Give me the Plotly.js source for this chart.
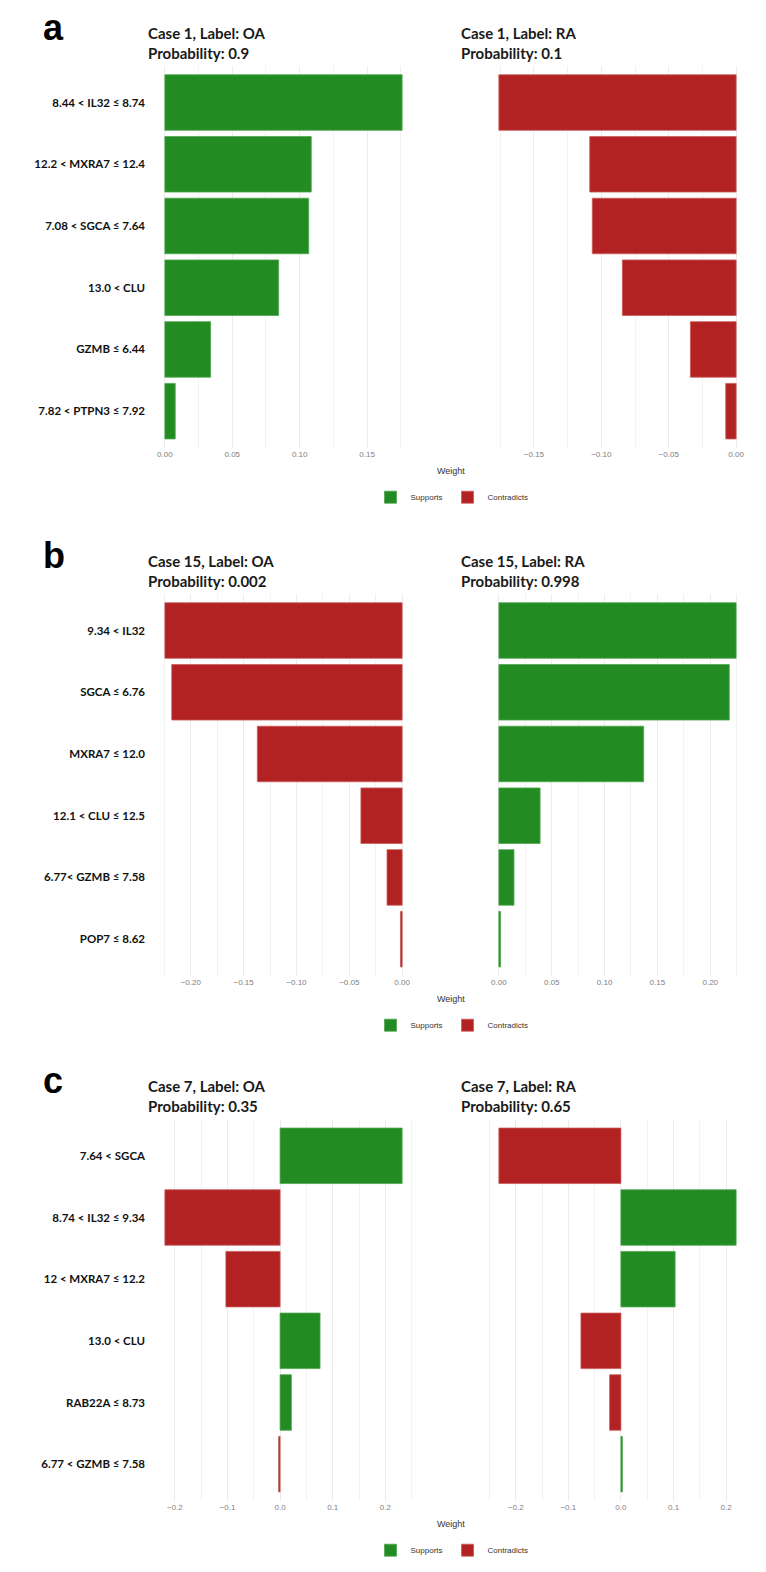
<!DOCTYPE html>
<html><head><meta charset="utf-8">
<script src="https://cdn.plot.ly/plotly-3.0.1.min.js"></script>
<style>html,body{margin:0;padding:0;background:#fff}#chart{width:766px;height:1572px}</style>
</head><body><div id="chart"></div>
<script>
// ---------- data ----------
const panelLetters = ['a', 'b', 'c'];
const titlesOA = ['Case 1, Label: OA', 'Case 15, Label: OA', 'Case 7, Label: OA'];
const titlesRA = ['Case 1, Label: RA', 'Case 15, Label: RA', 'Case 7, Label: RA'];
const probOA = ['Probability: 0.9', 'Probability: 0.002', 'Probability: 0.35'];
const probRA = ['Probability: 0.1', 'Probability: 0.998', 'Probability: 0.65'];

const featuresA = ['8.44 < IL32 ≤ 8.74', '12.2 < MXRA7 ≤ 12.4', '7.08 < SGCA ≤ 7.64', '13.0 < CLU', 'GZMB ≤ 6.44', '7.82 < PTPN3 ≤ 7.92'];
const weightsA_OA = [0.176, 0.1086, 0.1067, 0.0844, 0.0339, 0.0077];
const weightsA_RA = [-0.176, -0.1086, -0.1067, -0.0844, -0.0339, -0.0077];

const featuresB = ['9.34 < IL32', 'SGCA ≤ 6.76', 'MXRA7 ≤ 12.0', '12.1 < CLU ≤ 12.5', '6.77< GZMB ≤ 7.58', 'POP7 ≤ 8.62'];
const weightsB_OA = [-0.2245, -0.218, -0.137, -0.039, -0.0143, -0.0016];
const weightsB_RA = [0.2245, 0.218, 0.137, 0.039, 0.0143, 0.0016];

const featuresC = ['7.64 < SGCA', '8.74 < IL32 ≤ 9.34', '12 < MXRA7 ≤ 12.2', '13.0 < CLU', 'RAB22A ≤ 8.73', '6.77 < GZMB ≤ 7.58'];
const weightsC_OA = [0.232, -0.219, -0.103, 0.076, 0.0215, -0.0028];
const weightsC_RA = [-0.232, 0.219, 0.103, -0.076, -0.0215, 0.0028];

const legendNames = ['Supports', 'Contradicts'];
const axisTitle = 'Weight';

// ---------- layout helpers ----------
const W = 766, H = 1572;
const px = v => v / W;
const py = v => 1 - v / H;
const GREEN = '#228B22', RED = '#B22222';

const panels = [
  {features: featuresA, oa: weightsA_OA, ra: weightsA_RA, top: 65.5, bottom: 448.2, dtick: 0.05, fmt: '.2f'},
  {features: featuresB, oa: weightsB_OA, ra: weightsB_RA, top: 593.5, bottom: 976.2, dtick: 0.05, fmt: '.2f'},
  {features: featuresC, oa: weightsC_OA, ra: weightsC_RA, top: 1118.8, bottom: 1501.2, dtick: 0.1, fmt: '.1f'}
];
const colL = [153, 414], colR = [487, 748];

const traces = [];
const layout = {
  width: W, height: H,
  margin: {l: 0, r: 0, t: 0, b: 0},
  paper_bgcolor: '#fff', plot_bgcolor: '#fff',
  barmode: 'overlay',
  font: {family: 'Liberation Sans, Arial, sans-serif'},
  annotations: [],
  showlegend: true
};

function xRange(ws) {
  const mn = Math.min(0, ...ws), mx = Math.max(0, ...ws);
  const pad = (mx - mn) * 0.05;
  return [mn - pad, mx + pad];
}

panels.forEach((p, pi) => {
  const legName = pi === 0 ? 'legend' : 'legend' + (pi + 1);
  const shown = {Supports: false, Contradicts: false};
  [p.oa, p.ra].forEach((ws, si) => {
    const k = pi * 2 + si + 1;
    const xa = 'xaxis' + (k === 1 ? '' : k), ya = 'yaxis' + (k === 1 ? '' : k);
    const col = si === 0 ? colL : colR;
    layout[xa] = {
      domain: [px(col[0]), px(col[1])],
      anchor: 'y' + (k === 1 ? '' : k),
      range: xRange(ws),
      tick0: 0, dtick: p.dtick, tickformat: p.fmt,
      showgrid: true, gridcolor: '#ececec', gridwidth: 1,
      minor: {dtick: p.dtick / 2, tick0: 0, showgrid: true, gridcolor: '#f2f2f2', gridwidth: 1},
      zeroline: false, showline: false, ticks: '',
      tickfont: {family: 'Liberation Sans, Arial, sans-serif', size: 8, color: '#808080'},
      fixedrange: true
    };
    layout[ya] = {
      domain: [py(p.bottom), py(p.top)],
      anchor: 'x' + (k === 1 ? '' : k),
      type: 'category', categoryorder: 'array', categoryarray: p.features,
      range: [p.features.length - 0.4, -0.6],
      showgrid: false, zeroline: false, showline: false, ticks: '',
      showticklabels: si === 0,
      ticklabelstandoff: 7,
      tickfont: {family: 'Lato, Open Sans, sans-serif', size: 11.5, color: '#111', weight: 'bold'},
      fixedrange: true
    };
    legendNames.forEach((nm, ti) => {
      const xs = [], ys = [];
      ws.forEach((w, i) => {
        if ((ti === 0 && w > 0) || (ti === 1 && w <= 0)) { xs.push(w); ys.push(p.features[i]); }
      });
      if (!xs.length) return;
      const show = !shown[nm];
      shown[nm] = true;
      traces.push({
        type: 'bar', orientation: 'h', x: xs, y: ys,
        xaxis: 'x' + (k === 1 ? '' : k), yaxis: 'y' + (k === 1 ? '' : k),
        name: nm, width: 0.9,
        marker: {color: ti === 0 ? GREEN : RED, line: {color: ti === 0 ? '#4fa64f' : '#c95a5a', width: 0.8}},
        legend: legName, showlegend: show, legendrank: ti + 1,
        hoverinfo: 'x+y'
      });
    });
  });

  // legend for this panel
  const tickY = p.bottom + 7;
  layout[legName] = {
    orientation: 'h', x: px(452), xanchor: 'center', y: py(tickY + 42), yanchor: 'middle',
    font: {family: 'Liberation Sans, Arial, sans-serif', size: 8, color: '#333'},
    bgcolor: 'rgba(0,0,0,0)', itemwidth: 30, traceorder: 'normal'
  };
  // axis title
  layout.annotations.push({
    xref: 'paper', yref: 'paper', x: px(450.5), y: py(tickY + 16), xanchor: 'center', yanchor: 'middle',
    text: axisTitle, showarrow: false,
    font: {family: 'Liberation Sans, Arial, sans-serif', size: 9, color: '#333'}
  });
  // panel letter
  layout.annotations.push({
    xref: 'paper', yref: 'paper', x: px(41), y: py(p.top - 38), xanchor: 'left', yanchor: 'middle',
    text: panelLetters[pi], showarrow: false,
    font: {family: 'Liberation Sans, Arial, sans-serif', size: 36, color: '#000', weight: 'bold'}
  });
  // subplot titles
  [[titlesOA[pi], probOA[pi], 146], [titlesRA[pi], probRA[pi], 459]].forEach(([t1, t2, x0]) => {
    layout.annotations.push({
      xref: 'paper', yref: 'paper', x: px(x0), y: py(p.top - 22.5), xanchor: 'left', yanchor: 'middle',
      align: 'left', text: t1 + '<br>' + t2, showarrow: false,
      font: {family: 'Lato, Open Sans, sans-serif', size: 15, color: '#1a1a1a', weight: 'bold'}
    });
  });
});

Plotly.newPlot('chart', traces, layout, {displayModeBar: false, staticPlot: true});
</script>
</body></html>
